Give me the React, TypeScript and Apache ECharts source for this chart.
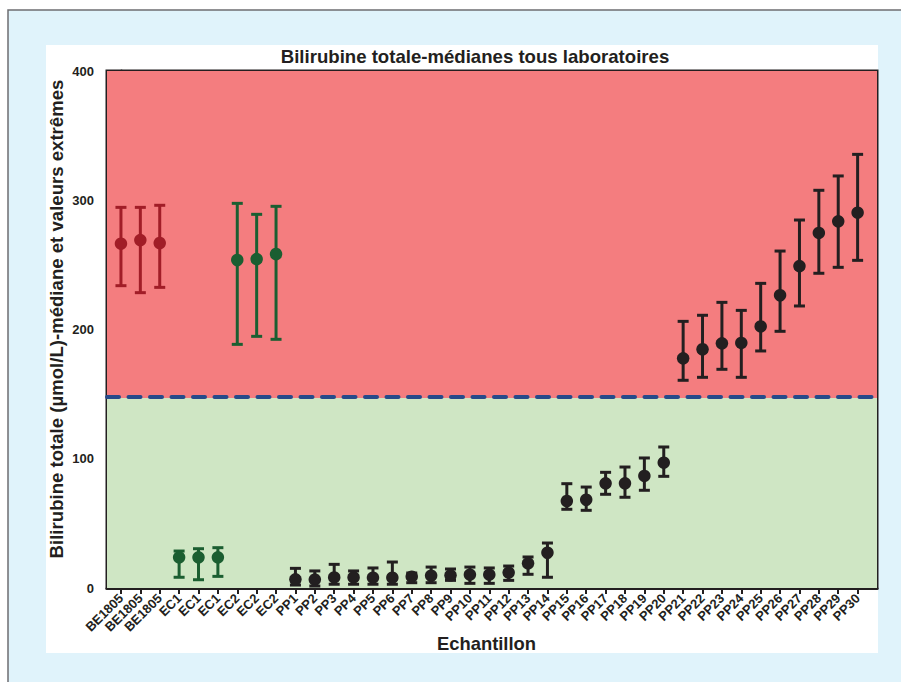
import React, { useEffect, useRef } from "react";
import * as echarts from "echarts";

const categories = [
  "BE1805", "BE1805", "BE1805", "EC1", "EC1", "EC1", "EC2", "EC2", "EC2",
  "PP1", "PP2", "PP3", "PP4", "PP5", "PP6", "PP7", "PP8", "PP9", "PP10",
  "PP11", "PP12", "PP13", "PP14", "PP15", "PP16", "PP17", "PP18", "PP19", "PP20",
  "PP21", "PP22", "PP23", "PP24", "PP25", "PP26", "PP27", "PP28", "PP29", "PP30",
];

const medians = [
  266.4, 269.2, 266.9, 23.7, 23.7, 23.7, 253.8, 254.5, 258.4,
  6.7, 6.5, 8.2, 8.2, 8.0, 8.0, 8.8, 9.5, 9.8, 10.3,
  10.3, 11.9, 19.1, 27.3, 67.3, 68.3, 81.0, 81.0, 86.7, 97.0,
  177.7, 184.7, 189.3, 189.6, 202.4, 226.5, 249.1, 274.7, 283.7, 290.4,
];

const highs = [
  294.5, 294.5, 296.1, 28.6, 30.4, 31.2, 297.6, 289.1, 295.3,
  15.2, 13.2, 18.3, 13.2, 15.5, 20.1, 11.6, 16.2, 14.7, 16.2,
  15.5, 17.0, 24.0, 34.8, 80.7, 78.1, 89.5, 93.6, 100.6, 109.1,
  206.3, 211.0, 221.0, 214.8, 235.7, 260.7, 284.7, 307.7, 318.8, 335.5,
];

const lows = [
  233.9, 228.5, 232.6, 8.3, 6.4, 9.0, 188.5, 194.7, 192.4,
  2.3, 1.5, 2.9, 2.9, 2.9, 2.9, 4.1, 4.1, 5.9, 3.6,
  3.6, 5.9, 10.6, 8.3, 60.9, 60.1, 72.5, 70.2, 75.6, 86.4,
  160.7, 163.0, 169.2, 163.0, 183.4, 198.6, 218.2, 243.5, 248.1, 253.5,
];

const yTicks = [0, 100, 200, 300, 400];
const normalLimit = 147;
const thresholdLine = 148.3;

const groups = [
  { prefix: "BE", color: "#a11d27" },
  { prefix: "EC", color: "#1b5e31" },
  { prefix: "PP", color: "#231f20" },
];

const FONT = '"Liberation Sans", Arial, Helvetica, sans-serif';
const INK = "#231f20";

export default function App() {
  const ref = useRef<HTMLDivElement>(null);

  useEffect(() => {
    if (!ref.current) return;
    const chart = echarts.init(ref.current, null, { renderer: "svg" });

    const positions = categories.map((_, i) => i);

    const series: any[] = [
      {
        type: "line",
        data: [],
        z: 1,
        silent: true,
        markArea: {
          silent: true,
          itemStyle: { opacity: 1 },
          data: [
            [{ yAxis: 0, itemStyle: { color: "#cfe6c4" } }, { yAxis: normalLimit }],
            [{ yAxis: normalLimit, itemStyle: { color: "#f47d7f" } }, { yAxis: 400 }],
          ],
        },
        markLine: {
          silent: true,
          symbol: "none",
          label: { show: false },
          lineStyle: {
            color: "#264a8a",
            width: 4,
            type: [12, 9.5],
            cap: "round",
          },
          data: [{ yAxis: thresholdLine }],
        },
      },
    ];

    groups.forEach((g) => {
      const idx = positions.filter((i) => categories[i].startsWith(g.prefix));
      series.push({
        type: "custom",
        z: 3,
        clip: false,
        encode: { x: 0, y: [1, 2] },
        itemStyle: { color: g.color },
        data: idx.map((i) => [i, lows[i], highs[i]]),
        renderItem: (params: any, api: any) => {
          const x = api.value(0);
          const pLo = api.coord([x, api.value(1)]);
          const pHi = api.coord([x, api.value(2)]);
          const hw = 5.5;
          const style = { stroke: g.color, lineWidth: 3 };
          return {
            type: "group",
            children: [
              { type: "line", shape: { x1: pLo[0], y1: pLo[1], x2: pHi[0], y2: pHi[1] }, style },
              { type: "line", shape: { x1: pHi[0] - hw, y1: pHi[1], x2: pHi[0] + hw, y2: pHi[1] }, style },
              { type: "line", shape: { x1: pLo[0] - hw, y1: pLo[1], x2: pLo[0] + hw, y2: pLo[1] }, style },
            ],
          };
        },
      });
      series.push({
        type: "scatter",
        z: 4,
        symbol: "circle",
        symbolSize: 12.5,
        itemStyle: { color: g.color, opacity: 1 },
        data: idx.map((i) => [i, medians[i]]),
      });
    });

    chart.setOption({
      animation: false,
      backgroundColor: "#ffffff",
      textStyle: { fontFamily: FONT },
      graphic: [
        {
          type: "rect",
          z: -10,
          shape: { x: 8, y: 10, width: 1000, height: 1000 },
          style: { fill: "#e0f3fb", stroke: "#6d6e71", lineWidth: 1.5 },
          silent: true,
        },
        {
          type: "rect",
          z: -9,
          shape: { x: 46, y: 45, width: 832, height: 608 },
          style: { fill: "#ffffff" },
          silent: true,
        },
        {
          type: "text",
          z: 10,
          x: 475,
          y: 56,
          style: {
            text: "Bilirubine totale-médianes tous laboratoires",
            fill: INK,
            font: `bold 18.6px ${FONT}`,
            align: "center",
            verticalAlign: "middle",
          },
        },
        {
          type: "text",
          z: 10,
          x: 486.5,
          y: 643,
          style: {
            text: "Echantillon",
            fill: INK,
            font: `bold 18.4px ${FONT}`,
            align: "center",
            verticalAlign: "middle",
          },
        },
        {
          type: "text",
          z: 10,
          x: 56,
          y: 319,
          rotation: Math.PI / 2,
          style: {
            text: "Bilirubine totale (µmol/L)-médiane et valeurs extrêmes",
            fill: INK,
            font: `bold 18.6px ${FONT}`,
            align: "center",
            verticalAlign: "middle",
          },
        },
      ],
      grid: {
        left: 107,
        top: 71,
        width: 770,
        height: 517,
        show: true,
        borderColor: INK,
        borderWidth: 3,
        backgroundColor: "transparent",
      },
      xAxis: {
        type: "value",
        min: -0.72,
        max: 39,
        splitLine: { show: false },
        axisLine: { show: true, onZero: false, lineStyle: { color: INK, width: 3 } },
        axisTick: {
          show: true,
          length: 6,
          customValues: positions,
          lineStyle: { color: INK, width: 2 },
        },
        axisLabel: {
          customValues: positions,
          formatter: (v: number) => categories[Math.round(v)] ?? "",
          rotate: 45,
          margin: 8,
          color: INK,
          fontSize: 13,
          fontWeight: "bold",
          fontFamily: FONT,
        },
      },
      yAxis: {
        type: "value",
        min: 0,
        max: 400,
        interval: 100,
        splitLine: { show: false },
        axisLine: { show: true, lineStyle: { color: INK, width: 3 } },
        axisTick: { show: true, length: 6, lineStyle: { color: INK, width: 2 } },
        axisLabel: {
          customValues: yTicks,
          margin: 13,
          color: INK,
          fontSize: 13,
          fontWeight: "bold",
          fontFamily: FONT,
        },
      },
      series,
    });

    return () => chart.dispose();
  }, []);

  return (
    <div
      ref={ref}
      style={{ position: "fixed", left: 0, top: 0, width: 901, height: 682 }}
    />
  );
}
